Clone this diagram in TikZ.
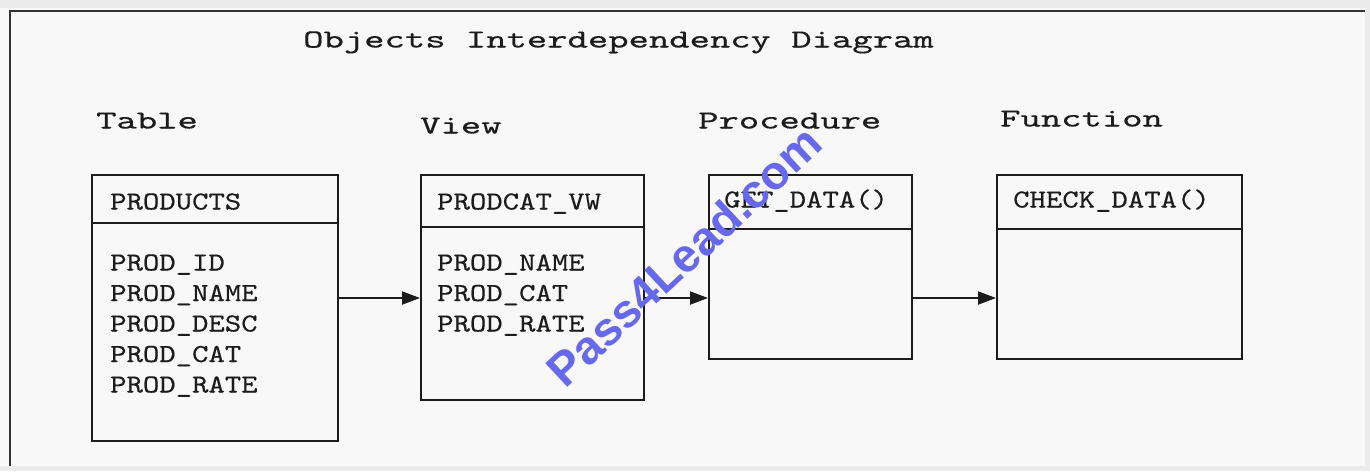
\documentclass[tikz,border=0pt]{standalone}
\usepackage{fontspec}
\usepackage{graphicx}
\newfontfamily\wmfont{Liberation Sans}
\newfontfamily\courfont[FakeBold=0.35]{lmmono10-regular.otf}
\usetikzlibrary{arrows.meta}
\definecolor{bgcol}{HTML}{F8F8F8}
\definecolor{edgecol}{HTML}{ECECEC}
\definecolor{inkcol}{HTML}{1C1C1C}
\definecolor{wmcol}{RGB}{104,104,236}
\tikzset{
  objbox/.style={draw=inkcol, line width=2pt, inner sep=0pt, anchor=north west},
  divline/.style={draw=inkcol, line width=2pt},
  boxtext/.style={inner sep=0pt, anchor=base west, text=inkcol,
    font=\courfont\fontsize{26}{30}\selectfont},
  headtext/.style={inner sep=0pt, anchor=base west, text=inkcol,
    font=\courfont\fontsize{26}{30}\selectfont},
  link/.style={draw=inkcol, line width=2pt, -{Triangle[length=18pt,width=13pt]}},
  framel/.style={draw=inkcol!90, line width=2pt}
}
\newcommand{\wide}[1]{\scalebox{1.49}[1]{#1}}
\newcommand{\bx}[1]{\scalebox{1.2}[1]{#1}}
\begin{document}
\begin{tikzpicture}[x=1pt,y=-1pt]
\useasboundingbox (0,0) rectangle (1370,471);
\fill[bgcol] (0,0) rectangle (1370,471);
\fill[edgecol] (0,0) rectangle (1370,8);
\fill[edgecol] (0,466) rectangle (1370,471);
\fill[edgecol] (1365,8) rectangle (1370,466);
\coordinate (ftl) at (10,11);
\coordinate (ftr) at (1365,11);
\coordinate (fbl) at (10,466);
\draw[framel] (ftr) -- (ftl) -- (fbl);

% headings
\node[headtext] (title) at (303,47.5) {\wide{Objects Interdependency Diagram}};
\node[headtext] (ltable) at (96,128.5) {\wide{Table}};
\node[headtext] (lview) at (420,133.5) {\wide{View}};
\node[headtext] (lproc) at (698,128.5) {\wide{Procedure}};
\node[headtext] (lfunc) at (1000,126.5) {\wide{Function}};

% boxes
\node[objbox, minimum width=246pt, minimum height=266pt] (products) at (91,174) {};
\node[objbox, minimum width=223pt, minimum height=225pt] (view) at (420,174) {};
\node[objbox, minimum width=203pt, minimum height=184pt] (proc) at (708,174) {};
\node[objbox, minimum width=245pt, minimum height=184pt] (func) at (996,174) {};

\draw[divline] ([yshift=-49pt]products.north west) -- ([yshift=-49pt]products.north east);
\draw[divline] ([yshift=-53pt]view.north west) -- ([yshift=-53pt]view.north east);
\draw[divline] ([yshift=-55pt]proc.north west) -- ([yshift=-55pt]proc.north east);
\draw[divline] ([yshift=-55pt]func.north west) -- ([yshift=-55pt]func.north east);

% box texts
\node[boxtext] (pname) at (110,209.5) {\bx{PRODUCTS}};
\node[boxtext] (p1) at (110,270.5) {\bx{PROD\_ID}};
\node[boxtext] (p2) at (110,301) {\bx{PROD\_NAME}};
\node[boxtext] (p3) at (110,331.5) {\bx{PROD\_DESC}};
\node[boxtext] (p4) at (110,362) {\bx{PROD\_CAT}};
\node[boxtext] (p5) at (110,392.5) {\bx{PROD\_RATE}};

\node[boxtext] (vname) at (437,209.5) {\bx{PRODCAT\_VW}};
\node[boxtext] (v1) at (437,270.5) {\bx{PROD\_NAME}};
\node[boxtext] (v2) at (437,301) {\bx{PROD\_CAT}};
\node[boxtext] (v3) at (437,331.5) {\bx{PROD\_RATE}};

\node[boxtext] (gname) at (724,207.5) {\bx{GET\_DATA()}};
\node[boxtext] (cname) at (1013,207.5) {\bx{CHECK\_DATA()}};

% connectors
\coordinate (ay) at (0,298);
\draw[link] (products.east |- ay) -- (view.west |- ay);
\draw[link] (view.east |- ay) -- (proc.west |- ay);
\draw[link] (proc.east |- ay) -- (func.west |- ay);

% watermark
\node[text=wmcol, font=\wmfont\bfseries\fontsize{47}{47}\selectfont, rotate=43, inner sep=0pt] (wm) at (684,256) {Pass4Lead.com};
\end{tikzpicture}
\end{document}
